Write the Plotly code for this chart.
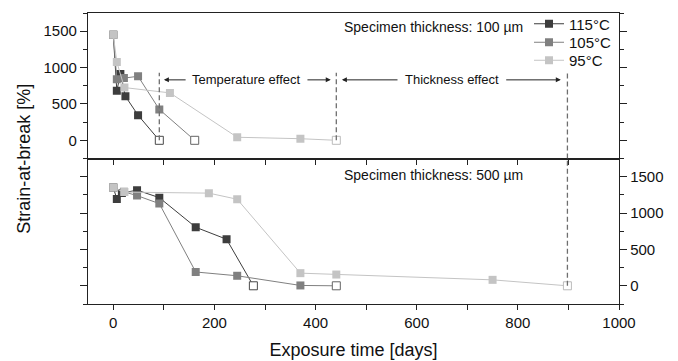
import plotly.graph_objects as go

# ---------------- data ----------------
temps = ["115°C", "105°C", "95°C"]

# 100 µm specimens (top panel)
t100_115 = [0, 7, 14, 24, 49, 91]
s100_115 = [1450, 680, 910, 605, 345, 0]
t100_105 = [0, 7, 21, 49, 91, 161]
s100_105 = [1450, 840, 855, 880, 425, 0]
t100_95 = [0, 7, 22, 112, 245, 370, 441]
s100_95 = [1450, 1075, 725, 652, 42, 22, 0]

# 500 µm specimens (bottom panel)
t500_115 = [0, 7, 17, 47, 91, 163, 224, 277]
s500_115 = [1350, 1195, 1275, 1315, 1212, 805, 640, 0]
t500_105 = [0, 21, 47, 91, 163, 245, 370, 441]
s500_105 = [1350, 1292, 1240, 1130, 190, 138, 5, 0]
t500_95 = [0, 22, 189, 245, 370, 441, 750, 898]
s500_95 = [1350, 1288, 1274, 1190, 174, 155, 82, 0]

# failure (open marker) points
fail100_t = [91, 161, 441]
fail100_s = [0, 0, 0]
fail500_t = [277, 441, 898]
fail500_s = [0, 0, 0]

# dashed guide times
guide_t = [91, 441, 898]
guide_top = 930
arrow_level = 831

colors = ["#3d3d3d", "#808080", "#c4c4c4"]
open_cols = ["#505050", "#6a6a6a", "#bdbdbd"]
FONT = "Liberation Sans, Arial, sans-serif"

fig = go.Figure()

top_sets = [(t100_115, s100_115), (t100_105, s100_105), (t100_95, s100_95)]
bot_sets = [(t500_115, s500_115), (t500_105, s500_105), (t500_95, s500_95)]
legend_names = ["legend", "legend2", "legend3"]

for i, (tt, ss) in enumerate(top_sets):
    fig.add_trace(go.Scatter(
        x=tt, y=ss, mode="lines+markers", name=temps[i], xaxis="x", yaxis="y",
        line=dict(color=colors[i], width=1),
        marker=dict(symbol="square", size=8, color=colors[i], line=dict(width=0)),
        showlegend=True, legend=legend_names[i]))
fig.add_trace(go.Scatter(
    x=fail100_t, y=fail100_s, mode="markers", xaxis="x", yaxis="y", showlegend=False,
    marker=dict(symbol="square", size=8, color="white", line=dict(color=open_cols, width=1))))

for i, (tt, ss) in enumerate(bot_sets):
    fig.add_trace(go.Scatter(
        x=tt, y=ss, mode="lines+markers", name=temps[i], xaxis="x2", yaxis="y2",
        line=dict(color=colors[i], width=1),
        marker=dict(symbol="square", size=8, color=colors[i], line=dict(width=0)),
        showlegend=False))
fig.add_trace(go.Scatter(
    x=fail500_t, y=fail500_s, mode="markers", xaxis="x2", yaxis="y2", showlegend=False,
    marker=dict(symbol="square", size=8, color="white", line=dict(color=open_cols, width=1))))

AX = "#222222"
tickfont = dict(family=FONT, size=15, color="#111")

leg_common = dict(xanchor="left", yanchor="middle", bgcolor="rgba(0,0,0,0)",
                  font=dict(family=FONT, size=15, color="#111"), itemwidth=30,
                  borderwidth=0)
leg_x = (529 - 88) / 531
leg_rows_px = [24, 42.5, 60.5]

fig.update_layout(
    template="none",
    width=678, height=361,
    margin=dict(l=88, r=59, t=13, b=57, autoexpand=False),
    paper_bgcolor="white", plot_bgcolor="white",
    font=dict(family=FONT, color="#111"),
    xaxis=dict(domain=[0, 1], anchor="y", range=[-50, 1000], showticklabels=False,
               ticks="outside", tick0=0, dtick=100, ticklen=5, tickcolor=AX,
               showline=True, linecolor=AX, linewidth=1.3, mirror=True,
               showgrid=False, zeroline=False, automargin=False),
    yaxis=dict(domain=[0.5, 1], anchor="x", range=[-250, 1750], tick0=0, dtick=500,
               ticks="outside", ticklen=7, tickcolor=AX, tickfont=tickfont,
               minor=dict(dtick=250, tick0=0, ticks="outside", ticklen=4, tickcolor=AX, showgrid=False),
               showline=True, linecolor=AX, linewidth=1.3, mirror="ticks",
               showgrid=False, zeroline=False, automargin=False),
    xaxis2=dict(domain=[0, 1], anchor="y2", range=[-50, 1000], tick0=0, dtick=200,
                ticks="outside", ticklen=5, tickcolor=AX, tickfont=tickfont,
                minor=dict(dtick=100, tick0=0, ticks="outside", ticklen=5, tickcolor=AX, showgrid=False),
                showline=True, linecolor=AX, linewidth=1.3, mirror=True,
                showgrid=False, zeroline=False, automargin=False,
                title=dict(text="Exposure time [days]", font=dict(family=FONT, size=18), standoff=13)),
    yaxis2=dict(domain=[0, 0.5], anchor="x2", side="right", range=[-250, 1750], tick0=0, dtick=500,
                ticks="outside", ticklen=7, tickcolor=AX, tickfont=tickfont,
                minor=dict(dtick=250, tick0=0, ticks="outside", ticklen=4, tickcolor=AX, showgrid=False),
                showline=True, linecolor=AX, linewidth=1.3, mirror="ticks",
                showgrid=False, zeroline=False, automargin=False),
    legend=dict(x=leg_x, y=(304 - leg_rows_px[0]) / 291, **leg_common),
    legend2=dict(x=leg_x, y=(304 - leg_rows_px[1]) / 291, **leg_common),
    legend3=dict(x=leg_x, y=(304 - leg_rows_px[2]) / 291, **leg_common),
    showlegend=True,
)

DASH = "5px,3px"
GC = "#6e6e6e"
shapes = [
    dict(type="line", xref="x", yref="y", x0=guide_t[0], x1=guide_t[0], y0=0, y1=guide_top,
         line=dict(color=GC, width=1.3, dash=DASH)),
    dict(type="line", xref="x", yref="y", x0=guide_t[1], x1=guide_t[1], y0=0, y1=guide_top,
         line=dict(color=GC, width=1.3, dash=DASH)),
    dict(type="line", xref="x", yref="y", x0=guide_t[2], x1=guide_t[2], y0=-250, y1=guide_top,
         line=dict(color=GC, width=1.3, dash=DASH)),
    dict(type="line", xref="x2", yref="y2", x0=guide_t[2], x1=guide_t[2], y0=0, y1=1750,
         line=dict(color=GC, width=1.3, dash=DASH)),
]
fig.update_layout(shapes=shapes)

ann = []
arrow_pairs = [(100, 146), (430, 381), (452, 565), (885, 774)]
for head, tail in arrow_pairs:
    ann.append(dict(x=head, y=arrow_level, ax=tail, ay=arrow_level, xref="x", yref="y",
                    axref="x", ayref="y", text="", showarrow=True, arrowhead=2,
                    arrowsize=1, arrowwidth=1, arrowcolor="#222"))
ann.append(dict(x=263, y=arrow_level, xref="x", yref="y", text="Temperature effect",
                showarrow=False, font=dict(family=FONT, size=13, color="#111")))
ann.append(dict(x=669, y=arrow_level, xref="x", yref="y", text="Thickness effect",
                showarrow=False, font=dict(family=FONT, size=13, color="#111")))
ann.append(dict(x=453, y=1551, xref="x", yref="y", xanchor="left", text="Specimen thickness: 100 µm",
                showarrow=False, font=dict(family=FONT, size=14, color="#111")))
ann.append(dict(x=453, y=1525, xref="x2", yref="y2", xanchor="left", text="Specimen thickness: 500 µm",
                showarrow=False, font=dict(family=FONT, size=14, color="#111")))
ann.append(dict(x=-0.122, y=0.5, xref="paper", yref="paper", xanchor="center", yanchor="middle",
                text="Strain-at-break [%]",
                textangle=-90, showarrow=False, font=dict(family=FONT, size=18, color="#111")))
fig.update_layout(annotations=ann)

fig.write_html("out.html", config={"displayModeBar": False},
               post_script="document.body.style.margin='0';document.body.style.overflow='hidden';")
